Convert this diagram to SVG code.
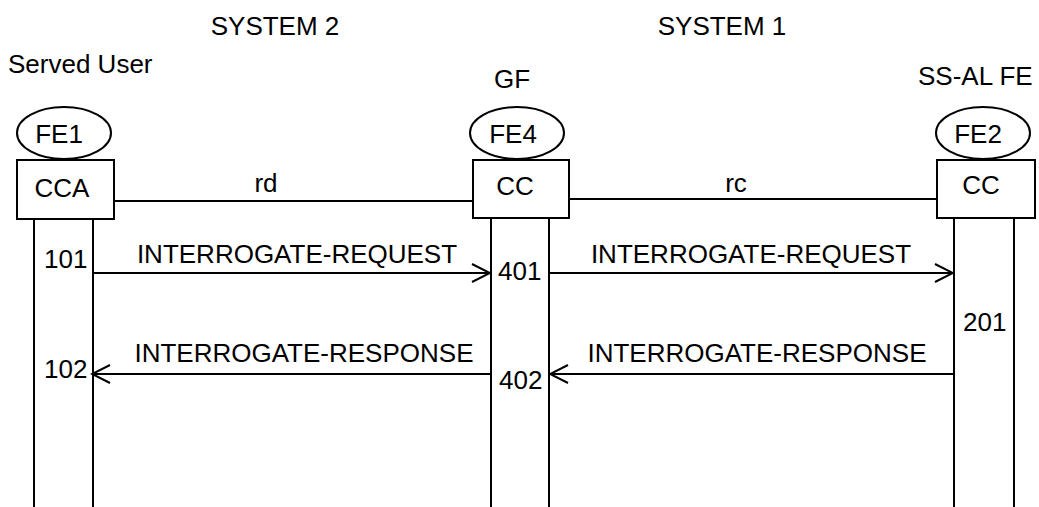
<svg xmlns="http://www.w3.org/2000/svg" width="1039" height="507" viewBox="0 0 1039 507">
<style>
text{font-family:"Liberation Sans",Arial,sans-serif;font-size:26px;fill:#000}
.s{fill:none;stroke:#000;stroke-width:2}
.b{fill:#fff;stroke:#000;stroke-width:2}
.m{text-anchor:middle}
</style>
<defs>
<marker id="ah" markerWidth="22" markerHeight="22" refX="20" refY="11" orient="auto" markerUnits="userSpaceOnUse">
<path d="M2,2 L20,11 L2,20" fill="none" stroke="#000" stroke-width="2"/>
</marker>
</defs>
<rect width="1039" height="507" fill="#fff"/>
<g id="labels">
<text class="m" x="275" y="35">SYSTEM 2</text>
<text class="m" x="722" y="35">SYSTEM 1</text>
<text x="8" y="73">Served User</text>
<text class="m" x="512" y="88">GF</text>
<text x="918" y="85">SS-AL FE</text>
</g>
<g id="connectors">
<line class="s" x1="114" y1="201" x2="473" y2="201"/>
<line class="s" x1="569" y1="199" x2="937" y2="199"/>
<text class="m" x="266" y="192">rd</text>
<text class="m" x="736" y="192">rc</text>
<line class="s" x1="93" y1="273" x2="490" y2="273" marker-end="url(#ah)"/>
<line class="s" x1="549" y1="273" x2="953" y2="273" marker-end="url(#ah)"/>
<line class="s" x1="954" y1="374" x2="550" y2="374" marker-end="url(#ah)"/>
<line class="s" x1="491" y1="374" x2="92" y2="374" marker-end="url(#ah)"/>
<text class="m" x="297" y="263">INTERROGATE-REQUEST</text>
<text class="m" x="751" y="263">INTERROGATE-REQUEST</text>
<text class="m" x="304" y="362">INTERROGATE-RESPONSE</text>
<text class="m" x="757" y="362">INTERROGATE-RESPONSE</text>
</g>
<g id="fe1">
<line class="s" x1="34" y1="219" x2="34" y2="507"/>
<line class="s" x1="93" y1="219" x2="93" y2="507"/>
<ellipse class="b" cx="64" cy="133" rx="47" ry="26"/>
<rect class="b" x="17" y="160" width="97" height="59"/>
<text class="m" x="59" y="143">FE1</text>
<text class="m" x="62" y="197">CCA</text>
<text x="44" y="268">101</text>
<text x="44" y="378">102</text>
</g>
<g id="fe4">
<line class="s" x1="491" y1="218" x2="491" y2="507"/>
<line class="s" x1="549" y1="218" x2="549" y2="507"/>
<ellipse class="b" cx="517" cy="133" rx="47" ry="26"/>
<rect class="b" x="473" y="160" width="96" height="58"/>
<text class="m" x="513" y="143">FE4</text>
<text class="m" x="515" y="195">CC</text>
<text x="498" y="280">401</text>
<text x="499" y="389">402</text>
</g>
<g id="fe2">
<line class="s" x1="954" y1="218" x2="954" y2="507"/>
<line class="s" x1="1014" y1="218" x2="1014" y2="507"/>
<ellipse class="b" cx="983" cy="133" rx="47" ry="26"/>
<rect class="b" x="937" y="160" width="98" height="58"/>
<text class="m" x="978" y="143">FE2</text>
<text class="m" x="981" y="194">CC</text>
<text x="963" y="331">201</text>
</g>
</svg>
